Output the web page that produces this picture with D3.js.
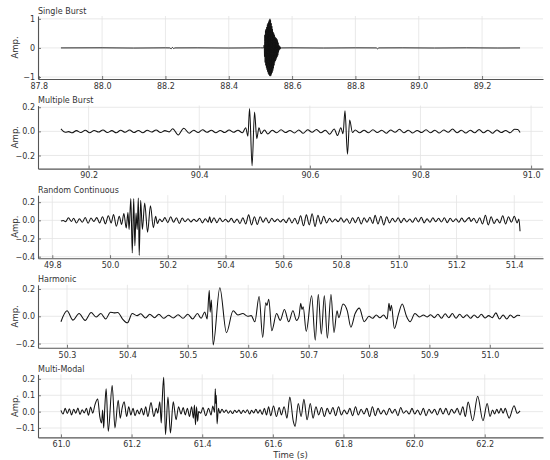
<!DOCTYPE html>
<html><head><meta charset="utf-8">
<script src="https://cdn.jsdelivr.net/npm/d3@7"></script>
<style>
body{margin:0;background:#fff}
svg{display:block}
text{font-family:"DejaVu Sans",sans-serif}
</style>
</head><body>
<svg id="chart" width="550" height="460"></svg>
<script>
// ---------- DATA ----------
const panelTitles = ["Single Burst", "Multiple Burst", "Random Continuous", "Harmonic", "Multi-Modal"];
const yLabel = "Amp.";
const xLabel = "Time (s)";

const xTicks1 = [87.8, 88.0, 88.2, 88.4, 88.6, 88.8, 89.0, 89.2];
const xTicks2 = [90.2, 90.4, 90.6, 90.8, 91.0];
const xTicks3 = [49.8, 50.0, 50.2, 50.4, 50.6, 50.8, 51.0, 51.2, 51.4];
const xTicks4 = [50.3, 50.4, 50.5, 50.6, 50.7, 50.8, 50.9, 51.0];
const xTicks5 = [61.0, 61.2, 61.4, 61.6, 61.8, 62.0, 62.2];
const yTicks1 = [-1, 0, 1];
const yTicks2 = [-0.2, 0.0, 0.2];
const yTicks3 = [-0.4, -0.2, 0.0, 0.2];
const yTicks4 = [-0.2, 0.0, 0.2];
const yTicks5 = [-0.1, 0.0, 0.1, 0.2];

// [time, amplitude]
const singleBurst = [
[87.870,0],[88.000,0.004],[88.100,-0.004],[88.200,0.003],[88.214,0],[88.218,-0.03],[88.222,0.02],[88.226,-0.02],[88.230,0],
[88.300,0.003],[88.400,-0.003],[88.500,0.003],[88.510,0],
[88.512,0.1],[88.513,-0.3],[88.514,0.45],[88.515,-0.5],[88.516,0.6],[88.517,-0.6],[88.518,0.65],[88.519,-0.68],
[88.520,0.72],[88.521,-0.75],[88.522,0.8],[88.523,-0.82],[88.524,0.85],[88.525,-0.88],[88.526,0.9],[88.527,-0.92],
[88.528,0.95],[88.529,-0.95],[88.530,1.0],[88.531,-0.97],[88.532,0.95],[88.533,-0.95],[88.534,0.85],[88.535,-0.9],
[88.536,0.75],[88.537,-0.85],[88.538,0.65],[88.539,-0.78],[88.540,0.55],[88.541,-0.7],[88.542,0.5],[88.543,-0.6],
[88.544,0.45],[88.545,-0.5],[88.546,0.38],[88.547,-0.45],[88.548,0.35],[88.549,-0.4],[88.550,0.33],[88.551,-0.35],
[88.552,0.3],[88.553,-0.3],[88.554,0.25],[88.555,-0.25],[88.556,0.18],[88.557,-0.15],[88.558,0.1],[88.559,-0.08],
[88.560,0.06],[88.561,-0.05],[88.562,0.04],[88.563,-0.03],[88.564,0.02],[88.566,0],
[88.600,0.003],[88.700,-0.003],[88.800,0.003],[88.866,0],[88.870,-0.03],[88.874,0],[88.950,0.003],
[89.050,-0.003],[89.150,0.003],[89.250,-0.003],[89.320,0]
];

const multipleBurst = [
[90.150,0.020],[90.158,-0.008],[90.164,-0.002],[90.170,-0.012],[90.178,0.006],[90.186,-0.010],[90.194,0.010],
[90.202,-0.012],[90.210,0.008],[90.218,-0.006],[90.226,0.012],[90.234,-0.010],[90.242,0.006],[90.250,-0.012],
[90.258,0.010],[90.266,-0.008],[90.274,0.012],[90.282,-0.010],[90.290,0.008],[90.298,-0.012],[90.306,0.010],
[90.314,-0.006],[90.322,0.012],[90.330,-0.010],[90.338,0.006],[90.346,-0.004],[90.352,0.022],[90.362,-0.030],
[90.372,0.026],[90.382,-0.016],[90.390,0.010],[90.398,-0.010],[90.406,0.014],[90.414,-0.008],[90.422,0.010],
[90.430,-0.012],[90.438,0.008],[90.446,-0.010],[90.454,0.012],[90.462,-0.008],[90.470,0.010],[90.478,-0.012],
[90.484,0.030],[90.488,-0.040],[90.491,0.190],[90.4955,-0.285],[90.500,0.160],[90.504,-0.060],[90.508,0.030],
[90.512,-0.020],[90.518,0.012],[90.524,-0.022],[90.532,0.010],[90.540,-0.012],[90.548,0.014],[90.556,-0.010],
[90.564,0.008],[90.572,-0.014],[90.580,0.012],[90.588,-0.016],[90.596,0.014],[90.604,-0.008],[90.612,0.016],
[90.620,-0.012],[90.628,0.010],[90.636,-0.024],[90.644,0.020],[90.650,-0.034],[90.656,0.030],[90.660,-0.020],
[90.6635,0.170],[90.668,-0.190],[90.672,0.095],[90.677,-0.010],[90.682,0.012],[90.690,-0.012],[90.698,0.010],
[90.706,-0.012],[90.714,0.014],[90.722,-0.010],[90.730,0.010],[90.738,-0.016],[90.746,0.012],[90.754,-0.008],
[90.762,0.018],[90.770,-0.012],[90.778,0.010],[90.786,-0.014],[90.794,0.008],[90.802,-0.010],[90.810,0.014],
[90.818,-0.012],[90.826,0.010],[90.834,-0.014],[90.842,0.012],[90.850,-0.008],[90.858,0.020],[90.866,-0.012],
[90.874,0.010],[90.882,-0.014],[90.890,0.010],[90.898,-0.012],[90.906,0.016],[90.914,-0.012],[90.922,0.010],
[90.930,-0.016],[90.938,0.012],[90.946,-0.010],[90.954,0.008],[90.962,-0.012],[90.970,0.018],[90.976,0.016],
[90.980,-0.010]
];

const randomContinuous = [
[49.830,-0.008],[49.838,-0.002],[49.846,-0.015],[49.856,0.028],[49.866,-0.012],[49.874,0.022],[49.884,-0.030],
[49.894,0.018],[49.904,-0.022],[49.914,0.032],[49.924,-0.032],[49.934,0.025],[49.944,-0.012],[49.954,0.030],
[49.964,-0.028],[49.974,0.040],[49.984,-0.038],[49.994,0.050],[50.004,-0.030],[50.012,0.065],[50.022,-0.065],
[50.032,0.045],[50.040,-0.045],[50.048,0.075],[50.056,-0.085],[50.062,0.085],[50.066,-0.100],[50.072,0.240],
[50.077,-0.360],[50.082,0.240],[50.086,-0.280],[50.090,0.080],[50.094,-0.100],[50.098,0.245],[50.101,-0.385],
[50.106,0.220],[50.112,-0.100],[50.120,0.190],[50.130,-0.130],[50.140,0.160],[50.150,-0.080],[50.158,0.045],
[50.164,-0.035],[50.172,0.015],[50.180,-0.015],[50.190,0.030],[50.200,-0.025],[50.210,0.040],[50.220,-0.022],
[50.230,0.028],[50.240,-0.035],[50.250,0.025],[50.260,-0.015],[50.270,0.018],[50.280,-0.018],[50.290,0.012],
[50.300,-0.012],[50.310,0.022],[50.320,-0.028],[50.330,0.018],[50.340,-0.020],[50.345,0.040],[50.350,-0.025],
[50.360,0.028],[50.370,-0.025],[50.380,0.025],[50.390,-0.015],[50.400,0.012],[50.410,-0.018],[50.420,0.022],
[50.430,-0.025],[50.440,0.015],[50.450,-0.035],[50.460,0.028],[50.470,-0.040],[50.480,0.060],[50.490,-0.050],
[50.500,0.040],[50.510,-0.045],[50.520,0.040],[50.530,-0.022],[50.540,0.028],[50.550,-0.028],[50.560,0.022],
[50.570,-0.015],[50.580,0.015],[50.590,-0.018],[50.600,0.012],[50.610,-0.025],[50.620,0.028],[50.630,-0.028],
[50.640,0.022],[50.650,-0.040],[50.660,0.050],[50.670,-0.060],[50.680,0.060],[50.690,-0.050],[50.700,0.072],
[50.710,-0.068],[50.720,0.055],[50.730,-0.040],[50.740,0.045],[50.750,-0.028],[50.760,0.022],[50.770,-0.018],
[50.780,0.015],[50.790,-0.015],[50.800,0.028],[50.810,-0.022],[50.820,0.018],[50.830,-0.035],[50.840,0.028],
[50.850,-0.025],[50.860,0.035],[50.870,-0.040],[50.880,0.028],[50.890,-0.022],[50.900,0.035],[50.910,-0.035],
[50.918,0.055],[50.928,-0.040],[50.938,0.045],[50.948,-0.050],[50.958,0.040],[50.968,-0.028],[50.978,0.022],
[50.988,-0.018],[50.998,0.028],[51.008,-0.025],[51.018,0.022],[51.028,-0.018],[51.038,0.015],[51.048,-0.022],
[51.058,0.028],[51.068,-0.018],[51.078,0.035],[51.088,-0.028],[51.098,0.018],[51.108,-0.022],[51.118,0.028],
[51.128,-0.015],[51.138,0.022],[51.148,-0.018],[51.158,0.028],[51.168,-0.025],[51.178,0.022],[51.188,-0.015],
[51.198,0.018],[51.208,-0.022],[51.218,0.025],[51.228,-0.018],[51.238,0.015],[51.244,0.030],[51.250,-0.012],
[51.260,0.022],[51.270,-0.028],[51.280,0.028],[51.290,-0.040],[51.300,0.055],[51.310,-0.050],[51.320,0.040],
[51.330,-0.035],[51.340,0.015],[51.350,-0.028],[51.360,0.050],[51.370,-0.040],[51.380,0.040],[51.390,-0.022],
[51.400,0.045],[51.410,-0.028],[51.416,0.015],[51.420,-0.120]
];

const harmonic = [
[50.290,-0.040],[50.300,0.040],[50.310,-0.028],[50.320,0.020],[50.330,-0.030],[50.340,0.028],[50.348,-0.005],
[50.356,0.020],[50.364,-0.020],[50.372,0.030],[50.378,0.025],[50.384,0.028],[50.392,-0.020],[50.400,-0.048],
[50.408,0.020],[50.416,0.005],[50.422,0.018],[50.430,-0.012],[50.437,0.015],[50.445,-0.010],[50.452,0.015],
[50.460,-0.015],[50.468,0.008],[50.476,-0.012],[50.484,0.012],[50.492,-0.015],[50.500,0.015],[50.508,-0.020],
[50.516,0.020],[50.522,-0.015],[50.528,0.032],[50.532,-0.020],[50.5355,0.190],[50.537,0.030],[50.539,0.120],
[50.542,-0.210],[50.553,0.210],[50.564,-0.120],[50.575,0.040],[50.583,0.010],[50.591,0.020],[50.599,0.000],
[50.605,0.005],[50.611,-0.040],[50.618,0.145],[50.624,-0.155],[50.629,0.100],[50.631,0.080],[50.634,0.125],
[50.639,-0.105],[50.647,0.020],[50.653,-0.030],[50.660,0.050],[50.667,-0.040],[50.674,0.040],[50.680,-0.030],
[50.684,0.000],[50.687,0.095],[50.689,0.050],[50.691,0.070],[50.696,-0.110],[50.705,0.150],[50.711,-0.175],
[50.716,0.160],[50.721,-0.130],[50.726,0.150],[50.731,-0.160],[50.737,0.160],[50.742,-0.120],[50.747,0.040],
[50.750,-0.010],[50.757,0.090],[50.764,0.040],[50.770,-0.080],[50.777,0.020],[50.784,0.060],[50.792,-0.040],
[50.800,0.000],[50.806,-0.015],[50.812,0.010],[50.818,-0.010],[50.824,0.010],[50.830,-0.020],[50.833,0.095],
[50.835,0.040],[50.837,0.080],[50.842,-0.090],[50.849,0.020],[50.855,0.090],[50.862,0.000],[50.868,-0.040],
[50.876,0.020],[50.884,-0.005],[50.890,0.010],[50.896,-0.005],[50.902,0.012],[50.908,-0.010],[50.914,0.015],
[50.920,-0.015],[50.926,0.018],[50.932,-0.010],[50.938,0.020],[50.944,-0.015],[50.950,0.015],[50.956,-0.010],
[50.962,0.012],[50.968,-0.015],[50.974,0.010],[50.980,-0.010],[50.986,0.015],[50.992,-0.012],[50.998,0.005],
[51.004,-0.010],[51.010,0.025],[51.016,-0.020],[51.022,0.010],[51.028,-0.020],[51.034,0.010],[51.040,-0.010],
[51.046,0.008],[51.050,0.005]
];

const multiModal = [
[61.000,0.008],[61.006,-0.015],[61.012,0.020],[61.018,-0.012],[61.024,0.018],[61.030,-0.020],[61.036,0.015],
[61.042,-0.010],[61.048,0.022],[61.054,-0.018],[61.060,0.012],[61.066,-0.008],[61.072,0.020],[61.078,-0.022],
[61.084,0.028],[61.090,-0.010],[61.096,0.040],[61.104,0.077],[61.110,-0.030],[61.115,-0.070],[61.118,0.010],
[61.121,-0.100],[61.124,0.020],[61.128,0.140],[61.134,-0.120],[61.145,0.160],[61.153,-0.100],[61.162,0.070],
[61.168,-0.040],[61.173,0.020],[61.179,0.060],[61.186,-0.030],[61.192,0.030],[61.198,-0.020],[61.204,0.020],
[61.210,-0.025],[61.216,0.010],[61.222,-0.015],[61.228,0.020],[61.234,-0.020],[61.240,0.030],[61.246,-0.030],
[61.255,0.055],[61.263,-0.030],[61.270,0.020],[61.274,-0.010],[61.280,0.060],[61.284,-0.070],[61.287,0.080],
[61.291,0.210],[61.296,-0.140],[61.303,0.090],[61.310,-0.130],[61.318,0.060],[61.326,-0.050],[61.333,0.030],
[61.340,-0.015],[61.346,0.025],[61.352,-0.020],[61.358,0.020],[61.364,-0.030],[61.370,0.030],[61.375,-0.040],
[61.378,0.040],[61.381,-0.080],[61.384,0.030],[61.387,-0.060],[61.390,0.000],[61.396,-0.010],[61.402,0.025],
[61.410,-0.025],[61.418,0.020],[61.425,-0.020],[61.430,0.035],[61.435,-0.005],[61.437,0.140],[61.4385,0.050],
[61.440,0.100],[61.442,-0.075],[61.446,0.020],[61.450,-0.010],[61.456,0.015],[61.462,-0.005],[61.468,0.010],
[61.474,-0.010],[61.480,0.005],[61.486,-0.012],[61.492,0.008],[61.498,-0.005],[61.504,0.010],[61.510,-0.012],
[61.516,0.008],[61.522,-0.006],[61.528,0.012],[61.534,-0.015],[61.540,0.008],[61.546,-0.008],[61.552,0.015],
[61.558,-0.010],[61.564,0.012],[61.570,-0.018],[61.576,0.020],[61.582,-0.020],[61.588,0.030],[61.594,-0.025],
[61.602,0.035],[61.610,-0.030],[61.618,0.025],[61.624,-0.020],[61.632,0.030],[61.640,-0.040],[61.648,0.090],
[61.658,-0.060],[61.663,-0.090],[61.672,0.050],[61.680,-0.030],[61.688,0.075],[61.697,-0.050],[61.706,0.050],
[61.714,-0.040],[61.722,0.030],[61.730,-0.020],[61.738,0.025],[61.746,-0.030],[61.754,0.020],[61.762,-0.015],
[61.770,0.025],[61.778,-0.025],[61.786,0.030],[61.794,-0.020],[61.802,0.010],[61.810,-0.015],[61.818,0.020],
[61.826,-0.025],[61.834,0.030],[61.842,-0.020],[61.850,0.015],[61.858,-0.015],[61.866,0.020],[61.874,-0.030],
[61.882,0.030],[61.890,-0.025],[61.898,0.020],[61.906,-0.015],[61.914,0.010],[61.922,-0.020],[61.930,0.020],
[61.938,-0.010],[61.946,0.015],[61.954,-0.025],[61.962,0.025],[61.970,-0.010],[61.978,0.005],[61.986,-0.015],
[61.994,0.020],[62.002,-0.015],[62.010,0.010],[62.018,-0.020],[62.026,0.020],[62.034,-0.025],[62.042,0.015],
[62.050,-0.010],[62.058,0.015],[62.066,-0.020],[62.074,0.020],[62.082,-0.015],[62.090,0.020],[62.098,-0.020],
[62.106,0.015],[62.114,-0.010],[62.122,0.020],[62.130,-0.020],[62.138,0.030],[62.145,-0.030],[62.153,0.058],
[62.166,-0.056],[62.180,0.094],[62.195,-0.056],[62.207,0.050],[62.215,-0.030],[62.222,0.010],[62.228,-0.015],
[62.234,0.015],[62.240,-0.010],[62.246,0.020],[62.252,-0.010],[62.258,0.020],[62.264,-0.015],[62.269,-0.040],
[62.283,0.036],[62.292,-0.010],[62.300,0.005]
];

// ---------- DRAW ----------
const series = [singleBurst, multipleBurst, randomContinuous, harmonic, multiModal];
const xTickSets = [xTicks1, xTicks2, xTicks3, xTicks4, xTicks5];
const yTickSets = [yTicks1, yTicks2, yTicks3, yTicks4, yTicks5];
const yFormats = [d3.format("d"), d3.format(".1f"), d3.format(".1f"), d3.format(".1f"), d3.format(".1f")];

const svg = d3.select("#chart");
const left = 38, right = 543, panelH = 63;
const tops = [16, 105.6, 195.2, 284.8, 374.4];
const textColor = "#333", spineColor = "#555", gridColor = "#e3e3e3";

function padded(ext) {
  const r = ext[1] - ext[0];
  return [ext[0] - 0.05 * r, ext[1] + 0.05 * r];
}

series.forEach((data, i) => {
  const g = svg.append("g").attr("transform", `translate(0,${tops[i]})`);
  const x = d3.scaleLinear().domain(padded(d3.extent(data, d => d[0]))).range([left, right]);
  const y = d3.scaleLinear().domain(padded(d3.extent(data, d => d[1]))).range([panelH, 0]);

  // grid
  g.append("g").selectAll("line").data(xTickSets[i]).join("line")
    .attr("x1", d => x(d)).attr("x2", d => x(d)).attr("y1", 0).attr("y2", panelH)
    .attr("stroke", gridColor).attr("stroke-width", 0.8);
  g.append("g").selectAll("line").data(yTickSets[i]).join("line")
    .attr("x1", left).attr("x2", right).attr("y1", d => y(d)).attr("y2", d => y(d))
    .attr("stroke", gridColor).attr("stroke-width", 0.8);

  // signal
  g.append("path").datum(data)
    .attr("fill", "none").attr("stroke", "#111").attr("stroke-width", i === 0 ? 0.9 : 1.05)
    .attr("stroke-linejoin", "round")
    .attr("d", d3.line().x(d => x(d[0])).y(d => y(d[1])).curve(d3.curveMonotoneX));

  // axes
  const xa = g.append("g").attr("transform", `translate(0,${panelH})`)
    .call(d3.axisBottom(x).tickValues(xTickSets[i]).tickFormat(d3.format(".1f"))
      .tickSizeInner(-3).tickSizeOuter(0).tickPadding(4.2));
  const ya = g.append("g").attr("transform", `translate(${left},0)`)
    .call(d3.axisLeft(y).tickValues(yTickSets[i]).tickFormat(yFormats[i])
      .tickSizeInner(-3).tickSizeOuter(0).tickPadding(3));
  [xa, ya].forEach(a => {
    a.select(".domain").attr("stroke", spineColor).attr("stroke-width", 1.1);
    a.selectAll(".tick line").attr("stroke", spineColor).attr("stroke-width", 0.8);
    a.selectAll(".tick text").attr("fill", textColor).attr("font-size", 8)
      .attr("font-family", "DejaVu Sans, sans-serif");
  });

  // title
  g.append("text").attr("x", left).attr("y", -2.5)
    .attr("font-size", 8).attr("fill", textColor).text(panelTitles[i]);
  // y label
  g.append("text").attr("transform", `translate(15,${panelH / 2}) rotate(-90)`)
    .attr("text-anchor", "middle").attr("dy", "0.35em")
    .attr("font-size", 8.5).attr("fill", textColor).text(yLabel);
});

svg.append("text").attr("x", (left + right) / 2).attr("y", 457.5)
  .attr("text-anchor", "middle").attr("font-size", 8.5).attr("fill", textColor).text(xLabel);
</script>
</body></html>
